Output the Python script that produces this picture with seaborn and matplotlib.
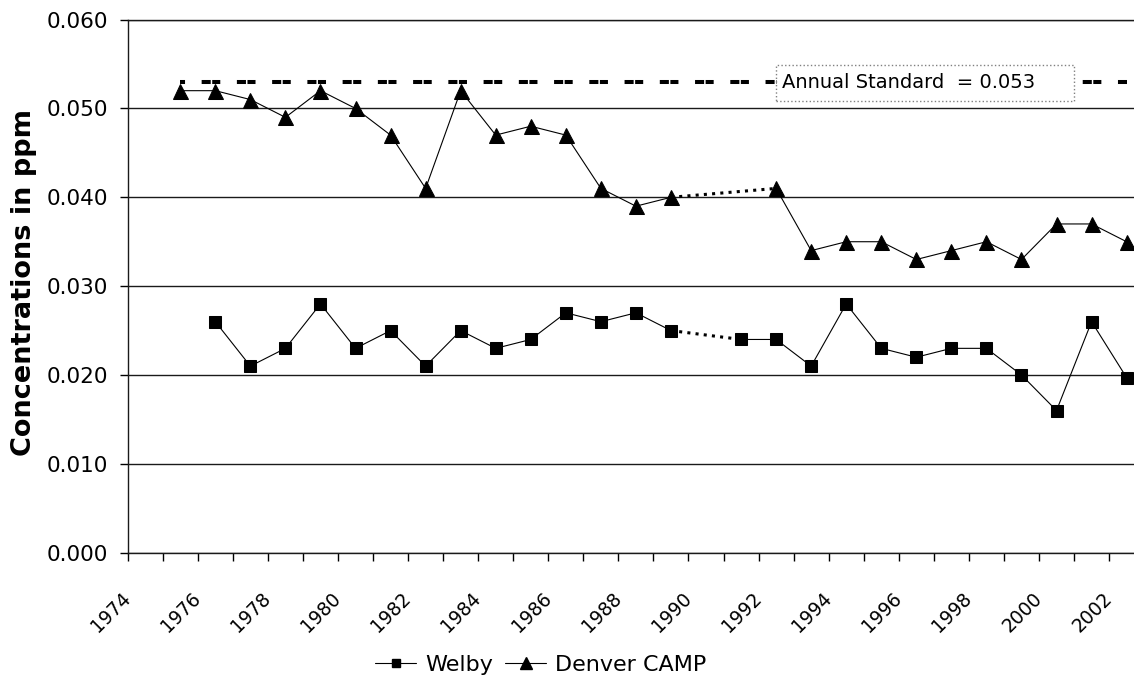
import numpy as np
import pandas as pd
import matplotlib
matplotlib.use("Agg")
import matplotlib.pyplot as plt
from matplotlib.lines import Line2D
from matplotlib.patches import Rectangle
import seaborn as sns

# Annual mean concentrations (ppm), None = no data
denver_years = list(range(1975, 2003))
denver_ppm = [0.052, 0.052, 0.051, 0.049, 0.052, 0.050, 0.047, 0.041, 0.052, 0.047,
              0.048, 0.047, 0.041, 0.039, 0.040, None, None, 0.041, 0.034, 0.035,
              0.035, 0.033, 0.034, 0.035, 0.033, 0.037, 0.037, 0.035]

welby_years = list(range(1976, 2003))
welby_ppm = [0.026, 0.021, 0.023, 0.028, 0.023, 0.025, 0.021, 0.025, 0.023, 0.024,
             0.027, 0.026, 0.027, 0.025, None, 0.024, 0.024, 0.021, 0.028, 0.023,
             0.022, 0.023, 0.023, 0.020, 0.016, 0.026, 0.0197]

annual_standard = 0.053
standard_label = "Annual Standard  = 0.053"

tick_years = list(range(1974, 2003))
tick_labels = [str(y) if y % 2 == 0 else "" for y in tick_years]
y_ticks = [0.0, 0.01, 0.02, 0.03, 0.04, 0.05, 0.06]


def to_frame(years, values):
    df = pd.DataFrame({"year": years, "ppm": values}, dtype=float)
    df["x"] = df["year"] + 0.5  # points sit between the year ticks
    df["seg"] = df["ppm"].isna().cumsum()
    return df


def gap_links(df):
    # pairs of points on either side of a missing year
    valid = df.dropna(subset=["ppm"]).reset_index(drop=True)
    links = []
    for i in range(1, len(valid)):
        if valid.loc[i, "seg"] != valid.loc[i - 1, "seg"]:
            links.append(valid.loc[i - 1:i])
    return links


welby = to_frame(welby_years, welby_ppm)
denver = to_frame(denver_years, denver_ppm)

sns.set_style("ticks")
plt.rcParams["font.family"] = ["DejaVu Sans"]
plt.rcParams["text.color"] = "black"
plt.rcParams["axes.labelcolor"] = "black"
plt.rcParams["xtick.color"] = "black"
plt.rcParams["ytick.color"] = "black"

fig = plt.figure(figsize=(11.34, 6.81), dpi=100)
ax = fig.add_axes([127.7 / 1134, 128.3 / 681, 1 - 127.7 / 1134, 533.1 / 681])

# standard line
std_x = denver["x"].to_numpy()
ax.plot(std_x, [annual_standard] * len(std_x), color="black", lw=2.9,
        ls=(3.375, (2.25, 0.375, 2.0, 4.125)), dash_capstyle="butt", zorder=2)

for df, marker, ms in [(welby, "s", 8.3), (denver, "^", 10.8)]:
    sns.lineplot(data=df.dropna(subset=["ppm"]), x="x", y="ppm", units="seg",
                 estimator=None, color="black", lw=0.8, marker=marker,
                 markersize=ms, markeredgecolor="black", markeredgewidth=0.75,
                 legend=False, ax=ax, zorder=3)
    for link in gap_links(df):
        ax.plot(link["x"], link["ppm"], color="black", lw=2.2,
                ls=(0, (1, 1.7)), zorder=2)

# label box for the standard
ax.add_patch(Rectangle((1992.5, 0.0508), 8.5, 0.0041, facecolor="white",
                       edgecolor="#808080", ls=":", lw=1, zorder=5))
ax.text(1992.68, 0.0529, standard_label, ha="left", va="center",
        fontsize=14, zorder=6)

ax.set_xlim(1974, 1974 + (1134 - 127.7) / 35.05)
ax.set_ylim(0, 0.06)
ax.set_xticks(tick_years)
ax.set_xticklabels(tick_labels, rotation=45, ha="right", va="center",
                   rotation_mode="anchor", fontsize=13.5)
ax.set_yticks(y_ticks)
ax.set_yticklabels([f"{v:.3f}" for v in y_ticks], fontsize=15.5)
ax.tick_params(axis="both", direction="out", length=5.5, width=1,
               color="black", bottom=True, left=True)
ax.tick_params(axis="x", pad=25)
ax.tick_params(axis="y", pad=8.5)

ax.yaxis.grid(True, color="#1a1a1a", lw=1.0)
ax.xaxis.grid(False)
ax.set_axisbelow(True)
for side in ["left", "bottom", "top"]:
    ax.spines[side].set_color("#1a1a1a")
    ax.spines[side].set_linewidth(1.0)
ax.spines["right"].set_visible(False)

ax.set_xlabel("")
ax.set_ylabel("Concentrations in ppm", fontsize=19.5, fontweight="bold")
ax.yaxis.set_label_coords(-0.090, 0.507)

handles = [
    Line2D([], [], color="black", lw=0.8, marker="s", ms=6, mec="black"),
    Line2D([], [], color="black", lw=0.8, marker="^", ms=8.4, mec="black"),
]
fig.legend(handles, ["Welby", "Denver CAMP"], ncol=2, frameon=False,
           loc="center", bbox_to_anchor=(0.477, 0.0235), fontsize=16,
           handlelength=1.85, handletextpad=0.4, columnspacing=0.54)

fig.savefig("out.png", dpi=100)
